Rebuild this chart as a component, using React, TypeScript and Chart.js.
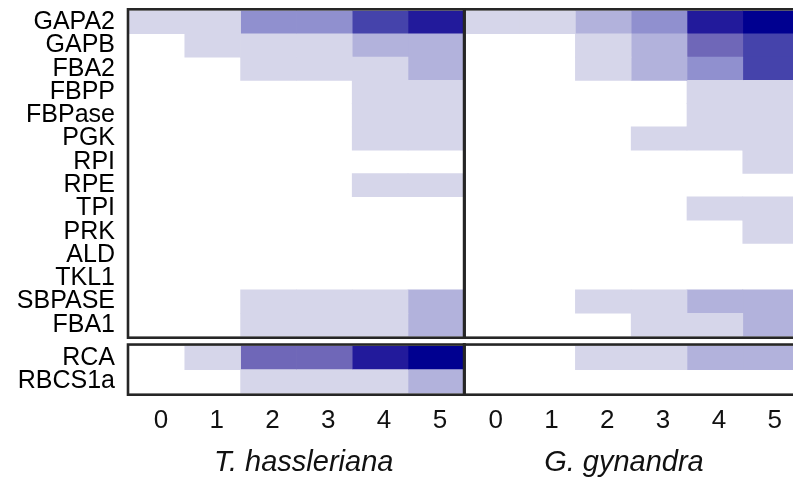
import React, { useEffect, useRef } from "react";
import { Chart, registerables } from "chart.js";

Chart.register(...registerables);

// ---- data ----
const genesUpper = ["GAPA2", "GAPB", "FBA2", "FBPP", "FBPase", "PGK", "RPI", "RPE", "TPI", "PRK", "ALD", "TKL1", "SBPASE", "FBA1"];
const genesLower = ["RCA", "RBCS1a"];
const timepoints = ["0", "1", "2", "3", "4", "5"];
const species = ["T. hassleriana", "G. gynandra"];
const speciesLabelPos = [3.13, 8.87];

// expression level (0 = none ... 7 = highest) per gene, per time point
const thUpper = [
  [1, 1, 3, 3, 5, 6],
  [0, 1, 1, 1, 2, 2],
  [0, 0, 1, 1, 1, 2],
  [0, 0, 0, 0, 1, 1],
  [0, 0, 0, 0, 1, 1],
  [0, 0, 0, 0, 1, 1],
  [0, 0, 0, 0, 0, 0],
  [0, 0, 0, 0, 1, 1],
  [0, 0, 0, 0, 0, 0],
  [0, 0, 0, 0, 0, 0],
  [0, 0, 0, 0, 0, 0],
  [0, 0, 0, 0, 0, 0],
  [0, 0, 1, 1, 1, 2],
  [0, 0, 1, 1, 1, 2],
];
const ggUpper = [
  [1, 1, 2, 3, 6, 7],
  [0, 0, 1, 2, 4, 5],
  [0, 0, 1, 2, 3, 5],
  [0, 0, 0, 0, 1, 1],
  [0, 0, 0, 0, 1, 1],
  [0, 0, 0, 1, 1, 1],
  [0, 0, 0, 0, 0, 1],
  [0, 0, 0, 0, 0, 0],
  [0, 0, 0, 0, 1, 1],
  [0, 0, 0, 0, 0, 1],
  [0, 0, 0, 0, 0, 0],
  [0, 0, 0, 0, 0, 0],
  [0, 0, 1, 1, 2, 2],
  [0, 0, 0, 1, 1, 2],
];
const thLower = [
  [0, 1, 4, 4, 6, 7],
  [0, 0, 1, 1, 1, 2],
];
const ggLower = [
  [0, 0, 1, 1, 2, 2],
  [0, 0, 0, 0, 0, 0],
];

const levelColors = [
  "rgba(255,255,255,0)",
  "#d6d6ea",
  "#b2b2dc",
  "#9090cf",
  "#6f67b8",
  "#4543ab",
  "#221a9b",
  "#000090",
];

const FONT = '"Liberation Sans", Arial, sans-serif';
const BORDER = "#262626";
const X_MAX = 11.9;

function buildDatasets(genes: string[], th: number[][], gg: number[][]) {
  const sets: any[] = [];
  [th, gg].forEach((mat, s) => {
    timepoints.forEach((_, c) => {
      const start = s * timepoints.length + c;
      sets.push({
        data: genes.map(() => [start, start + 1]),
        backgroundColor: genes.map((_, i) => levelColors[mat[i][c]]),
        borderWidth: 0,
        grouped: false,
        barPercentage: 1,
        categoryPercentage: 1,
      });
    });
  });
  return sets;
}

const framePlugin = {
  id: "frames",
  afterDatasetsDraw(chart: any) {
    const { ctx, chartArea, scales } = chart;
    const x = scales.x;
    const { left, top, bottom } = chartArea;
    const x6 = x.getPixelForValue(timepoints.length);
    const x12 = x.getPixelForValue(timepoints.length * 2);
    ctx.save();
    ctx.strokeStyle = BORDER;
    ctx.lineWidth = 2.6;
    ctx.strokeRect(left - 1, top - 1.2, x6 - left + 1.5, bottom - top + 2.4);
    ctx.strokeRect(x6 + 0.5, top - 1.2, x12 - x6 + 10, bottom - top + 2.4);
    ctx.lineWidth = 3;
    ctx.beginPath();
    ctx.moveTo(x6 + 0.5, top - 2.5);
    ctx.lineTo(x6 + 0.5, bottom + 2.5);
    ctx.stroke();
    ctx.restore();
  },
};

const speciesPlugin = {
  id: "species",
  afterDraw(chart: any) {
    const { ctx, scales } = chart;
    ctx.save();
    ctx.font = `italic 29px ${FONT}`;
    ctx.fillStyle = "#111";
    ctx.textAlign = "center";
    ctx.textBaseline = "alphabetic";
    species.forEach((name, i) => {
      ctx.fillText(name, scales.x.getPixelForValue(speciesLabelPos[i]), 131);
    });
    ctx.restore();
  },
};

function yAxis(labels: string[]) {
  return {
    type: "category" as const,
    labels,
    offset: true,
    grid: { display: false, drawTicks: false },
    border: { display: false },
    ticks: { color: "#000", font: { family: FONT, size: 25 }, padding: 14, autoSkip: false },
    afterFit(scale: any) {
      scale.width = 129;
      scale.paddingTop = 0;
      scale.paddingBottom = 0;
    },
  };
}

export default function App() {
  const topRef = useRef<HTMLCanvasElement>(null);
  const botRef = useRef<HTMLCanvasElement>(null);

  useEffect(() => {
    const c1 = new Chart(topRef.current!, {
      type: "bar",
      data: { labels: genesUpper, datasets: buildDatasets(genesUpper, thUpper, ggUpper) },
      options: {
        indexAxis: "y",
        animation: false,
        responsive: false,
        maintainAspectRatio: false,
        layout: { padding: { top: 10.5, bottom: 3.5, left: 0, right: 0 } },
        plugins: { legend: { display: false }, tooltip: { enabled: false } },
        scales: {
          x: { type: "linear", min: 0, max: X_MAX, display: false },
          y: yAxis(genesUpper) as any,
        },
      },
      plugins: [framePlugin],
    });

    const tickVals = [...timepoints, ...timepoints].map((_, i) => i + 0.5);
    const c2 = new Chart(botRef.current!, {
      type: "bar",
      data: { labels: genesLower, datasets: buildDatasets(genesLower, thLower, ggLower) },
      options: {
        indexAxis: "y",
        animation: false,
        responsive: false,
        maintainAspectRatio: false,
        layout: { padding: { top: 5.75, bottom: 0, left: 0, right: 0 } },
        plugins: { legend: { display: false }, tooltip: { enabled: false } },
        scales: {
          x: {
            type: "linear",
            min: 0,
            max: X_MAX,
            grid: { display: false, drawTicks: false },
            border: { display: false },
            afterBuildTicks(scale: any) {
              scale.ticks = tickVals.map((v) => ({ value: v }));
            },
            ticks: {
              color: "#111",
              font: { family: FONT, size: 26 },
              padding: 12,
              labelOffset: 4,
              maxRotation: 0,
              autoSkip: false,
              callback: (_v: any, i: number) => timepoints[i % timepoints.length],
            },
            afterFit(scale: any) {
              scale.height = 85.5;
              scale.paddingLeft = 0;
              scale.paddingRight = 0;
            },
          } as any,
          y: yAxis(genesLower) as any,
        },
      },
      plugins: [framePlugin, speciesPlugin],
    });

    return () => {
      c1.destroy();
      c2.destroy();
    };
  }, []);

  return (
    <div style={{ position: "fixed", left: 0, top: 0, width: 793, height: 479, background: "#fff", overflow: "hidden" }}>
      <canvas ref={topRef} width={793} height={340} style={{ position: "absolute", left: 0, top: 0, width: 793, height: 340 }} />
      <canvas ref={botRef} width={793} height={139} style={{ position: "absolute", left: 0, top: 340, width: 793, height: 139 }} />
    </div>
  );
}
